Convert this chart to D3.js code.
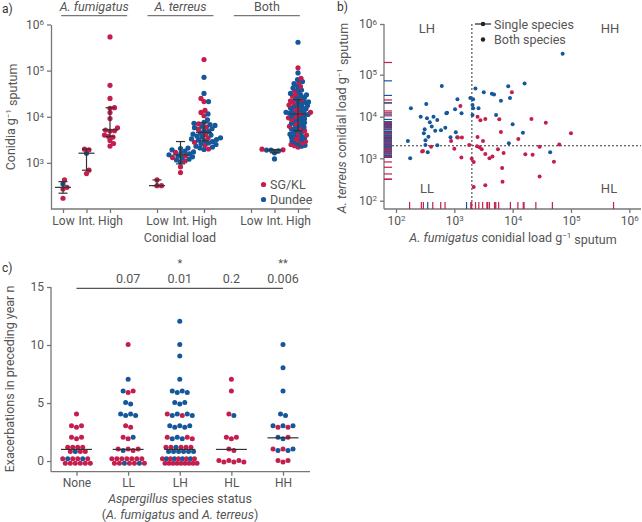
<!DOCTYPE html>
<html>
<head>
<meta charset="utf-8">
<script src="https://cdn.jsdelivr.net/npm/d3@7"></script>
<style>
body{margin:0;background:#fff;}
text{font-family:Roboto,"DejaVu Sans",sans-serif;fill:#555;}
.axis path,.axis line{stroke:#777;stroke-width:1.3;}
.axis text{font-size:12px;fill:#555;font-family:Roboto,"DejaVu Sans",sans-serif;}
</style>
</head>
<body>
<svg id="chart" width="642" height="522"></svg>
<script>
const width = 642, height = 522;
const svg = d3.select('#chart');

const siteColor = {S:'#c51d4c', D:'#14579a'};

// ---------- a) conidial load by species / load class ----------
const speciesGroups = ['A. fumigatus','A. terreus','Both'];
const loadCats = ['Low','Int.','High'];

const fumLow  = [[427,'S'],[295,'S'],[272,'S'],[350,'D'],[171,'S']];
const fumInt  = [[1918,'S'],[1986,'S'],[1620,'D'],[693,'S'],[585,'S']];
const fumHigh = [[537000,'S'],[48000,'S'],[25000,'S'],[15700,'S'],[15200,'S'],[12300,'S'],[9150,'S'],[5760,'S'],
  [4970,'S'],[4890,'S'],[5140,'S'],[3620,'S'],[3730,'S'],[4000,'S'],[3060,'S'],[2630,'S'],[2310,'S']];

const terLow  = [[427,'S'],[321,'S'],[321,'S']];
const terInt  = [[2090,'D'],[2050,'D'],[1920,'D'],[1800,'D'],[1730,'D'],[1650,'D'],[1570,'D'],[1500,'D'],[1420,'D'],
  [1350,'D'],[1280,'D'],[1200,'D'],[1160,'D'],[1050,'D'],[1700,'S'],[1450,'S'],[1300,'S'],[1100,'S'],[820,'S'],[615,'S']];
const terHigh = [[174000,'S'],[25000,'S'],[21300,'S'],[13700,'S'],[12400,'S'],[10500,'S'],
  [71400,'D'],[32100,'D'],[21300,'D'],[11500,'D'],[8600,'D'],
  [7600,'D'],[7200,'D'],[6800,'D'],[6500,'D'],[6200,'D'],[5800,'D'],[5500,'D'],[5000,'D'],[4800,'D'],[4400,'D'],
  [4200,'D'],[4000,'D'],[3800,'D'],[3600,'D'],[3500,'D'],[3300,'D'],[3200,'D'],[3100,'D'],[3000,'D'],[2900,'D'],
  [2700,'D'],[2600,'D'],[2500,'D'],[2300,'D'],[2200,'D'],[2100,'D'],[1950,'D'],
  [7000,'S'],[6000,'S'],[5300,'S'],[4100,'S'],[3400,'S'],[2800,'S'],[2400,'S'],[2000,'S']];

const bothLow  = [];
const bothInt  = [[1986,'S'],[1918,'S'],[1820,'D'],[1890,'D'],[1890,'D'],[1650,'D'],[1220,'D']];
const bothHigh = [[412000,'D'],[115000,'S'],[89000,'D'],[68000,'S'],[64000,'D'],[58000,'D'],[55000,'S'],[52000,'D'],
  [48000,'D'],[45000,'S'],[42000,'D'],[40000,'D'],[38000,'D'],[36000,'S'],[34000,'D'],[32000,'D'],[31000,'S'],
  [30000,'D'],[29000,'D'],[28000,'S'],[27000,'D'],[26000,'D'],[25000,'D'],[24000,'S'],
  [22500,'D'],[22000,'S'],[21000,'D'],[20500,'D'],[20000,'S'],[19500,'D'],[19000,'D'],[18000,'S'],[17500,'D'],
  [17000,'D'],[16500,'D'],[16000,'S'],[15500,'D'],[15000,'D'],[14500,'S'],[14000,'D'],[13500,'D'],[13000,'S'],
  [13000,'D'],[12500,'D'],[12500,'S'],[12000,'D'],[12000,'D'],[11800,'S'],
  [11200,'D'],[11000,'S'],[10800,'D'],[10400,'D'],[10000,'S'],[9800,'D'],[9500,'S'],[9200,'D'],[9000,'D'],
  [8700,'S'],[8400,'D'],[8100,'D'],[7800,'S'],[7500,'D'],[7200,'D'],[7000,'S'],[6800,'D'],[6500,'D'],[6200,'S'],
  [6000,'D'],[5800,'D'],[5600,'S'],[5400,'D'],[5200,'D'],
  [5000,'S'],[4800,'D'],[4600,'D'],[4400,'S'],[4200,'D'],[4100,'D'],[4000,'S'],[3800,'D'],[3700,'S'],[3600,'D'],
  [3500,'D'],[3400,'S'],[3200,'D'],[3100,'S'],[3000,'D'],[2900,'S'],[2800,'D'],[2700,'S'],[2600,'D'],[2500,'S'],
  [2400,'D'],[2350,'S'],[2300,'D'],[2200,'S']];

// median and interquartile range drawn on each column
const aMedian = [295,1620,5210, 321,1490,4600, null,1890,11500];
const aQ1     = [220,693,3730,  321,950,3000,  null,1650,5000];
const aQ3     = [392,1986,15700, 427,2900,7400, null,1950,23400];

// ---------- b) A. fumigatus vs A. terreus (both species present) ----------
const bothPairs = [
  [610,54000,'D'],[180,16000,'D'],[330,20000,'D'],[265,10000,'D'],[340,9200,'D'],[440,10000,'D'],[380,7400,'D'],
  [510,8300,'D'],[410,5800,'D'],[310,5000,'D'],[470,4600,'D'],[590,4700,'D'],[700,5400,'D'],[730,12000,'D'],
  [750,12500,'D'],[1030,15000,'D'],[1130,26000,'D'],[1330,12000,'D'],[1060,4200,'D'],[1120,3200,'D'],[860,3200,'D'],
  [160,2600,'D'],[320,2700,'D'],[360,3300,'D'],[300,4000,'D'],[320,2100,'D'],[510,2050,'D'],[175,1000,'D'],[350,1400,'D'],
  [1880,28000,'D'],[2100,26000,'D'],[2300,47000,'D'],[3200,38000,'D'],[4400,35000,'D'],[4800,34000,'D'],[6300,24000,'D'],
  [8400,53000,'D'],[9000,28000,'D'],[16000,62000,'D'],[2050,19000,'D'],[2100,16000,'D'],[2600,16000,'D'],[2050,11000,'D'],
  [5200,11000,'D'],[10000,6600,'D'],[15000,4100,'D'],[8600,2300,'D'],[44000,1400,'D'],[72000,260000,'D'],
  [1270,18000,'S'],[1150,3150,'S'],[1350,3150,'S'],[880,2600,'S'],[1000,1700,'S'],[1320,1040,'S'],[290,1500,'S'],
  [280,1450,'S'],[400,1900,'S'],[1800,2100,'S'],[1990,980,'S'],[2150,820,'S'],[2150,210,'S'],
  [9700,38000,'S'],[2500,10000,'S'],[2800,8200,'S'],[3400,8800,'S'],[5900,8700,'S'],[21000,8800,'S'],[37000,7200,'S'],
  [6300,4300,'S'],[2500,3250,'S'],[3100,2600,'S'],[12500,2900,'S'],[100000,4000,'S'],[63000,2150,'S'],[2450,1950,'S'],
  [2700,1850,'S'],[2950,1650,'S'],[5600,1650,'S'],[7000,1350,'S'],[29000,1900,'S'],[16500,1250,'S'],[22000,1220,'S'],
  [51000,830,'S'],[3400,1270,'S'],[4000,1000,'S'],[4500,1100,'S'],[6600,590,'S'],[6700,280,'S'],[29000,370,'S'],[3400,230,'S']
];
const loadCutoff = 2000;
const quadrants = ['LH','HH','LL','HL'];

// ---------- c) exacerbations ----------
const statusCats = ['None','LL','LH','HL','HH'];
const exNone = [[4,'S'],[3,'S'],[3,'S'],[3,'S'],[2,'S'],[2,'S'],[2,'S'],
  [1,'S'],[1,'S'],[1,'S'],[1,'D'],[1,'S'],[1,'S'],[1,'S'],[1,'S'],
  [0,'S'],[0,'S'],[0,'D'],[0,'S'],[0,'S'],[0,'S'],[0,'S'],[0,'S'],[0,'D'],[0,'S'],[0,'S'],[0,'S']];
const exLL = [[10,'S'],[7,'D'],[6,'D'],[6,'S'],[6,'S'],[5,'D'],[5,'D'],[4,'D'],[4,'D'],[4,'D'],[4,'D'],
  [3,'S'],[3,'S'],[2,'S'],[2,'S'],[2,'D'],[1,'S'],[1,'D'],[1,'S'],[1,'S'],[1,'S'],
  [0,'S'],[0,'S'],[0,'S'],[0,'S'],[0,'S'],[0,'D'],[0,'S'],[0,'S'],[0,'S'],[0,'S'],[0,'S'],[0,'D'],[0,'S'],[0,'S']];
const exLH = [[12,'D'],[10,'D'],[9,'D'],[7,'D'],[6,'D'],[6,'D'],[6,'D'],[6,'D'],[5,'D'],[5,'D'],[5,'D'],
  [4,'S'],[4,'D'],[4,'D'],[4,'S'],[4,'D'],[4,'D'],[3,'D'],[3,'D'],[3,'D'],[3,'D'],[3,'D'],
  [2,'S'],[2,'D'],[2,'D'],[2,'D'],[2,'S'],[2,'S'],
  [1,'S'],[1,'D'],[1,'S'],[1,'D'],[1,'D'],[1,'D'],[1,'S'],[1,'D'],[1,'S'],[1,'D'],[1,'S'],[1,'D'],
  [0,'S'],[0,'S'],[0,'D'],[0,'S'],[0,'S'],[0,'S'],[0,'D'],[0,'S'],[0,'S'],[0,'S'],[0,'D'],[0,'S'],[0,'S'],[0,'S'],
  [0,'D'],[0,'S'],[0,'S'],[0,'S']];
const exHL = [[7,'S'],[6,'S'],[4,'S'],[4,'D'],[2,'S'],[2,'S'],[2,'S'],[1,'S'],[1,'S'],
  [0,'S'],[0,'S'],[0,'S'],[0,'S'],[0,'S'],[0,'S']];
const exHH = [[10,'D'],[8,'D'],[6,'D'],[4,'D'],[4,'D'],[3,'D'],[3,'S'],[3,'D'],[3,'S'],[3,'D'],
  [2,'D'],[2,'D'],[2,'S'],[1,'S'],[1,'D'],[1,'S'],[1,'D'],[1,'D'],[0,'S'],[0,'S'],[0,'S']];
const pValues = ['', '0.07', '0.01', '0.2', '0.006'];
const pStars  = ['', '', '*', '', '**'];

// ---------- helpers ----------
function pow10(sel, expOf){
  sel.each(function(d){
    const t = d3.select(this).text(null);
    t.append('tspan').text('10');
    t.append('tspan').attr('dy','-0.45em').attr('font-size','8px').text(expOf(d));
  });
}
function unitLabel(t, parts){
  // parts: [text, italic?, superscript?, back to baseline?]
  parts.forEach(p=>{
    const s = t.append('tspan').text(p[0]);
    if(p[1]) s.attr('font-style','italic');
    if(p[2]) s.attr('font-size','8px').attr('dy','-0.45em');
    if(p[3]) s.attr('dy','0.45em');
  });
}
function swarm(points, cx, y, r, gap){
  const placed = [];
  points.slice().sort((a,b)=> a[0]-b[0]).forEach(p=>{
    const py = y(p[0]);
    let off = 0;
    for(let k=0;k<400;k++){
      const o = (k%2 ? 1 : -1) * Math.ceil(k/2) * 0.5;
      if(placed.every(q=> (q.x-(cx+o))**2 + (q.y-py)**2 >= gap*gap)){ off = o; break; }
    }
    placed.push({x:cx+off, y:py, site:p[1]});
  });
  return placed;
}

// =================== panel a ===================
const aKeys = ['f0','f1','f2','gap1','t0','t1','t2','gap2','b0','b1','b2'];
const aSets = [fumLow,fumInt,fumHigh,terLow,terInt,terHigh,bothLow,bothInt,bothHigh];
const aUsed = aKeys.filter(k=> !k.startsWith('gap'));
const aLeft = 51, aRight = 310, aBottom = 209;
const xa = d3.scalePoint().domain(aKeys).range([63,298]);
const ya = d3.scaleLog().domain([1e2,1e6]).range([aBottom,24.5]);

const gA = svg.append('g');
gA.append('text').attr('x',2).attr('y',13).attr('font-size','12px').style('fill','#333').text('a)');

gA.append('g').attr('class','axis')
  .attr('transform','translate(' + aLeft + ',0)')
  .call(d3.axisLeft(ya).tickValues([1e3,1e4,1e5,1e6]).tickSize(4).tickSizeOuter(0))
  .selectAll('.tick text').call(pow10, d=> Math.round(Math.log10(d)));

const xAxisA = gA.append('g').attr('class','axis')
  .attr('transform','translate(0,' + aBottom + ')')
  .call(d3.axisBottom(xa).tickValues(aUsed).tickSize(4).tickFormat(k=> loadCats[+k[1]]));
xAxisA.select('.domain').remove();
gA.append('line').attr('x1',aLeft).attr('x2',aRight).attr('y1',aBottom).attr('y2',aBottom)
  .attr('stroke','#777').attr('stroke-width',1.3);

// species headers
speciesGroups.forEach((s,i)=>{
  const cx = aLeft + (aRight-aLeft)*(2*i+1)/6;
  gA.append('text').attr('x',cx).attr('y',11).attr('text-anchor','middle').attr('font-size','12.5px')
    .attr('font-style', i<2 ? 'italic' : 'normal').text(s);
  gA.append('line').attr('x1',cx-33).attr('x2',cx+33).attr('y1',15.7).attr('y2',15.7)
    .attr('stroke','#777').attr('stroke-width',1.2);
});

// dots
aUsed.forEach((k,i)=>{
  const pts = swarm(aSets[i], xa(k), ya, 2.6, aSets[i].length > 60 ? 3.3 : 4.2);
  gA.selectAll('.dot-' + k).data(pts).join('circle')
    .attr('cx',d=>d.x).attr('cy',d=>d.y).attr('r',2.6)
    .style('fill',d=>siteColor[d.site]);
});
// median + IQR
aUsed.forEach((k,i)=>{
  if(aMedian[i]==null) return;
  const cx = xa(k);
  const g = gA.append('g').attr('stroke','#333').attr('stroke-width',1.2);
  g.append('line').attr('x1',cx).attr('x2',cx).attr('y1',ya(aQ1[i])).attr('y2',ya(aQ3[i]));
  g.append('line').attr('x1',cx-4.5).attr('x2',cx+4.5).attr('y1',ya(aQ1[i])).attr('y2',ya(aQ1[i]));
  g.append('line').attr('x1',cx-4.5).attr('x2',cx+4.5).attr('y1',ya(aQ3[i])).attr('y2',ya(aQ3[i]));
  g.append('line').attr('x1',cx-8).attr('x2',cx+8).attr('y1',ya(aMedian[i])).attr('y2',ya(aMedian[i]));
});

// legend
[['SG/KL','S'],['Dundee','D']].forEach((l,i)=>{
  gA.append('circle').attr('cx',263.5).attr('cy',184.5 + i*15).attr('r',2.6).style('fill',siteColor[l[1]]);
  gA.append('text').attr('x',270).attr('y',189 + i*15).attr('font-size','12.5px').text(l[0]);
});

// axis titles
const ytA = gA.append('text').attr('transform','translate(15,117) rotate(-90)')
  .attr('text-anchor','middle').attr('font-size','12.5px');
unitLabel(ytA, [['Conidia g'],['\u22121',false,true],[' sputum',false,false,true]]);
gA.append('text').attr('x',180).attr('y',242).attr('text-anchor','middle').attr('font-size','12.5px').text('Conidial load');

// =================== panel b ===================
const bLeft = 384, bRight = 641, bBottom = 209, bTop = 24;
const xb = d3.scaleLog().domain([1e2,1e6]).range([396,629.3]);
const ybExp = d3.scaleLinear().domain([2,3,4,5,6]).range([200.7,158.3,116.7,74.7,24]);
const yb = v => ybExp(Math.log10(v));

const gB = svg.append('g');
gB.append('text').attr('x',337).attr('y',11).attr('font-size','12px').style('fill','#333').text('b)');

const yAxisB = gB.append('g').attr('class','axis')
  .attr('transform','translate(' + bLeft + ',0)')
  .call(d3.axisLeft(ybExp).tickValues([2,3,4,5,6]).tickSize(4));
yAxisB.select('.domain').remove();
yAxisB.selectAll('.tick text').call(pow10, d=> d);
const xAxisB = gB.append('g').attr('class','axis')
  .attr('transform','translate(0,' + bBottom + ')')
  .call(d3.axisBottom(xb).tickValues([1e2,1e3,1e4,1e5,1e6]).tickSize(4));
xAxisB.select('.domain').remove();
xAxisB.selectAll('.tick text').call(pow10, d=> Math.round(Math.log10(d)));
gB.append('line').attr('x1',bLeft).attr('x2',bLeft).attr('y1',bTop).attr('y2',bBottom)
  .attr('stroke','#777').attr('stroke-width',1.3);
gB.append('line').attr('x1',bLeft).attr('x2',bRight).attr('y1',bBottom).attr('y2',bBottom)
  .attr('stroke','#777').attr('stroke-width',1.3);

// cut-off lines
gB.append('line').attr('x1',xb(loadCutoff)).attr('x2',xb(loadCutoff)).attr('y1',bTop).attr('y2',bBottom)
  .attr('stroke','#333').attr('stroke-width',1).attr('stroke-dasharray','2,2');
gB.append('line').attr('x1',bLeft).attr('x2',bRight).attr('y1',yb(loadCutoff)).attr('y2',yb(loadCutoff))
  .attr('stroke','#333').attr('stroke-width',1).attr('stroke-dasharray','2,2');

// rugs: single-species samples
const fumSingle = fumLow.concat(fumInt, fumHigh);
const terSingle = terLow.concat(terInt, terHigh);
gB.selectAll('.rugx').data(fumSingle).join('line')
  .attr('x1',d=>xb(d[0])).attr('x2',d=>xb(d[0])).attr('y1',bBottom).attr('y2',bBottom-7)
  .attr('stroke',d=>siteColor[d[1]]).attr('stroke-width',1.2);
gB.selectAll('.rugy').data(terSingle).join('line')
  .attr('x1',bLeft).attr('x2',bLeft+8).attr('y1',d=>yb(d[0])).attr('y2',d=>yb(d[0]))
  .attr('stroke',d=>siteColor[d[1]]).attr('stroke-width',1.2);

// both species points
gB.selectAll('.pt').data(bothPairs).join('circle')
  .attr('cx',d=>xb(d[0])).attr('cy',d=>yb(d[1])).attr('r',2)
  .style('fill',d=>siteColor[d[2]]);

// quadrant labels
const qPos = [[427,33],[610,33],[427,193],[609,193]];
quadrants.forEach((q,i)=>{
  gB.append('text').attr('x',qPos[i][0]).attr('y',qPos[i][1]).attr('text-anchor','middle')
    .attr('font-size','13px').text(q);
});

// legend
gB.append('line').attr('x1',475).attr('x2',491).attr('y1',24).attr('y2',24).attr('stroke','#222').attr('stroke-width',1.2);
gB.append('circle').attr('cx',483).attr('cy',24).attr('r',2.2).style('fill','#222');
gB.append('text').attr('x',494).attr('y',28.5).attr('font-size','12.5px').text('Single species');
gB.append('circle').attr('cx',483).attr('cy',39.5).attr('r',2.2).style('fill','#222');
gB.append('text').attr('x',494).attr('y',44).attr('font-size','12.5px').text('Both species');

// axis titles
const ytB = gB.append('text').attr('transform','translate(346,118) rotate(-90)')
  .attr('text-anchor','middle').attr('font-size','12.5px');
unitLabel(ytB, [['A. terreus',true],[' conidial load g'],['\u22121',false,true],[' sputum',false,false,true]]);
const xtB = gB.append('text').attr('x',513).attr('y',242).attr('text-anchor','middle').attr('font-size','12.5px');
unitLabel(xtB, [['A. fumigatus',true],[' conidial load g'],['\u22121',false,true],[' sputum',false,false,true]]);

// =================== panel c ===================
const cLeft = 51, cRight = 310, cBottom = 471.7;
const exSets = [exNone, exLL, exLH, exHL, exHH];
const xc = d3.scalePoint().domain(statusCats).range([76.5,283]);
const yc = d3.scaleLinear().domain([-0.92,15]).range([cBottom,287]);

const gC = svg.append('g');
gC.append('text').attr('x',2).attr('y',272).attr('font-size','12px').style('fill','#333').text('c)');

const yAxisC = gC.append('g').attr('class','axis')
  .attr('transform','translate(' + cLeft + ',0)')
  .call(d3.axisLeft(yc).tickValues([0,5,10,15]).tickSize(4));
yAxisC.select('.domain').remove();
gC.append('line').attr('x1',cLeft).attr('x2',cLeft).attr('y1',yc(15)).attr('y2',cBottom)
  .attr('stroke','#777').attr('stroke-width',1.3);
const xAxisC = gC.append('g').attr('class','axis')
  .attr('transform','translate(0,' + cBottom + ')')
  .call(d3.axisBottom(xc).tickSize(4));
xAxisC.select('.domain').remove();
gC.append('line').attr('x1',cLeft).attr('x2',cRight).attr('y1',cBottom).attr('y2',cBottom)
  .attr('stroke','#777').attr('stroke-width',1.3);

function strip(list, cx, y){
  const out = [];
  d3.groups(list, d=>d[0]).forEach(([v,items])=>{
    const n = items.length, two = n > 7;
    items.forEach((d,i)=>{
      const row = two ? i%2 : 0;
      const idx = two ? Math.floor(i/2) : i;
      const rowN = two ? (row===0 ? Math.ceil(n/2) : Math.floor(n/2)) : n;
      const step = rowN>1 ? Math.min(5, 32/(rowN-1)) : 0;
      out.push({
        x: cx + (idx-(rowN-1)/2)*step + (two ? (row ? 1.3 : -1.3) : 0),
        y: y(v) + (two ? (row ? 2.2 : -2.2) : (i%2 ? 1 : -0.5)),
        site: d[1]
      });
    });
  });
  return out;
}

statusCats.forEach((c,i)=>{
  const pts = strip(exSets[i], xc(c), yc);
  gC.selectAll('.ex-' + c).data(pts).join('circle')
    .attr('cx',d=>d.x).attr('cy',d=>d.y).attr('r',2.5)
    .style('fill',d=>siteColor[d.site]);
  const med = d3.median(exSets[i], d=>d[0]);
  gC.append('line').attr('x1',xc(c)-15.5).attr('x2',xc(c)+15.5).attr('y1',yc(med)).attr('y2',yc(med))
    .attr('stroke','#333').attr('stroke-width',1.2);
  if(pValues[i]){
    gC.append('text').attr('x',xc(c)).attr('y',283).attr('text-anchor','middle').attr('font-size','12.5px').text(pValues[i]);
  }
  if(pStars[i]){
    gC.append('text').attr('x',xc(c)).attr('y',267).attr('text-anchor','middle').attr('font-size','11px').text(pStars[i]);
  }
});
gC.append('line').attr('x1',xc('None')).attr('x2',xc('HH')).attr('y1',288.3).attr('y2',288.3)
  .attr('stroke','#555').attr('stroke-width',1.2);

gC.append('text').attr('transform','translate(14,379) rotate(-90)').attr('text-anchor','middle')
  .attr('font-size','12.5px').text('Exacerbations in preceding year n');
const xtC1 = gC.append('text').attr('x',180).attr('y',503).attr('text-anchor','middle').attr('font-size','12.5px');
unitLabel(xtC1, [['Aspergillus',true],[' species status']]);
const xtC2 = gC.append('text').attr('x',180).attr('y',519).attr('text-anchor','middle').attr('font-size','12.5px');
unitLabel(xtC2, [['('],['A. fumigatus',true],[' and '],['A. terreus',true],[')']]);
</script>
</body>
</html>
